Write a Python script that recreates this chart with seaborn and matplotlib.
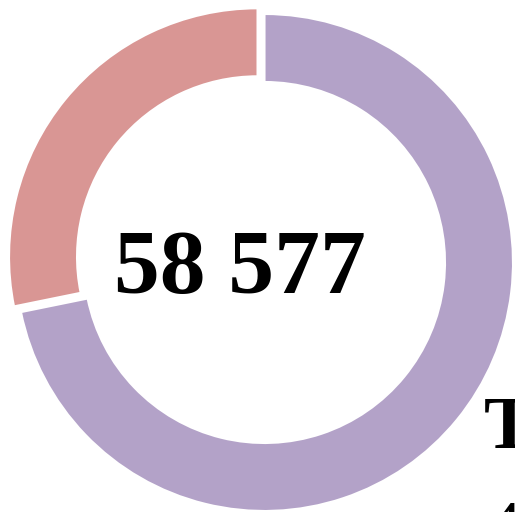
import matplotlib
matplotlib.use("Agg")
import matplotlib.pyplot as plt
import seaborn as sns

# slice values (purple, pink)
values = [42060, 16517]
colors = ["#B3A2C8", "#D99694"]
side_title = "Total"

total = sum(values)
center_label = f"{total:,}".replace(",", " ")
side_value = f"{values[0]:,}".replace(",", " ")

sns.set_style("white")
plt.rcParams["font.family"] = ["Liberation Serif", "DejaVu Serif"]

fig = plt.figure(figsize=(5.15, 5.12), dpi=100)
ax = fig.add_axes([0, 0, 1, 1])

ax.pie(
    values,
    colors=colors,
    center=(264.5, 249.5),
    radius=248.5,
    startangle=90,
    counterclock=False,
    explode=[0, 9],
    wedgeprops=dict(width=68, edgecolor="white", linewidth=1.5),
    frame=True,
)
ax.set_xlim(0, 515)
ax.set_ylim(0, 512)
ax.set_aspect("equal")
ax.axis("off")

ax.text(240, 241, center_label, ha="center", va="center",
        fontsize=66, fontweight="bold", color="black")
ax.text(484, 83, side_title, ha="left", va="center",
        fontsize=54, fontweight="bold", color="black")
ax.text(488, -19, side_value, ha="left", va="center",
        fontsize=48, color="black")

fig.savefig("out.png", dpi=100)
